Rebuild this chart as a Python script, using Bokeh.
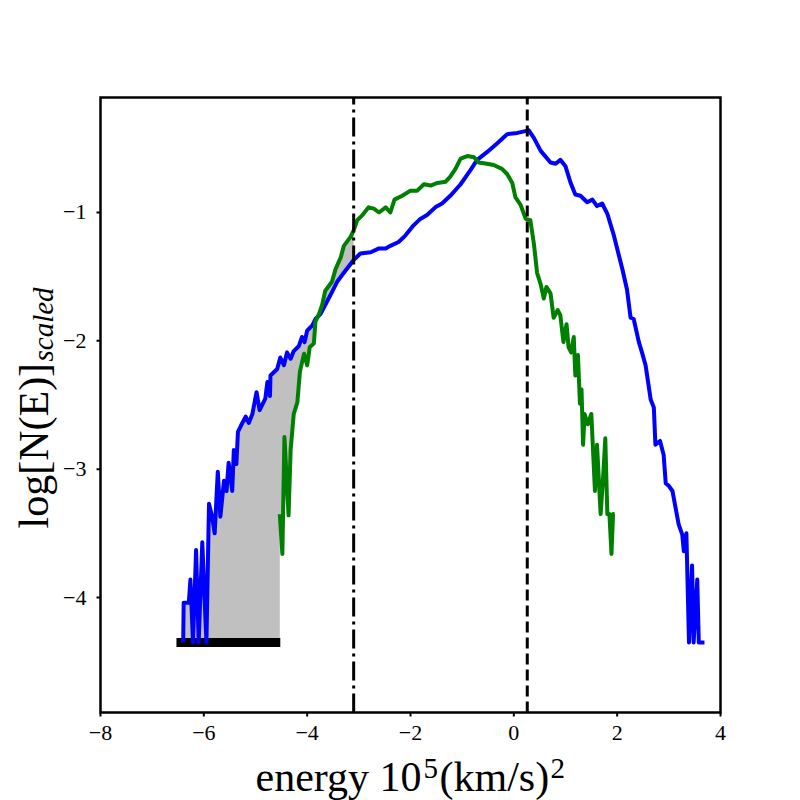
import numpy as np
from bokeh.plotting import figure
from bokeh.models import Range1d
from bokeh.embed import file_html
from bokeh.resources import INLINE
from bokeh.core.properties import value

# ---------------- data ----------------
floor_level = -4.35
e_cut = -3.10          # dash-dot marker
e_peak = 0.26          # dashed marker
bar_E = [-6.53, -4.52]  # black bar along the floor

blue_E = [-6.40, -6.39, -6.29, -6.26, -6.21, -6.15, -6.10, -6.03, -5.95, -5.90,
          -5.84, -5.79, -5.73, -5.68, -5.61, -5.56, -5.52, -5.45, -5.42, -5.37,
          -5.34, -5.28, -5.19, -5.13, -5.06, -4.98, -4.92, -4.81, -4.77, -4.72,
          -4.71, -4.58, -4.52, -4.45, -4.39, -4.32, -4.26, -4.16, -4.10, -4.05,
          -4.00, -3.90, -3.84, -3.74, -3.61, -3.52, -3.42, -3.29, -3.10, -2.97,
          -2.77, -2.61, -2.48, -2.39, -2.23, -2.10, -1.94, -1.81, -1.68, -1.52,
          -1.39, -1.23, -1.03, -0.84, -0.71, -0.52, -0.32, -0.13, 0.07, 0.29,
          0.39, 0.52, 0.71, 0.81, 0.90, 1.00, 1.10, 1.19, 1.29, 1.42,
          1.52, 1.61, 1.71, 1.81, 1.93, 2.03, 2.10, 2.19, 2.26, 2.32,
          2.42, 2.48, 2.55, 2.65, 2.71, 2.74, 2.83, 2.90, 2.94, 3.00,
          3.07, 3.13, 3.19, 3.26, 3.29, 3.34, 3.39, 3.45, 3.48, 3.55,
          3.58, 3.69]
blue_logN = [-4.35, -4.04, -4.04, -3.86, -4.35, -3.63, -4.35, -3.57, -4.35, -3.27,
             -3.37, -3.50, -3.02, -3.37, -3.09, -3.17, -2.95, -3.17, -2.85, -2.96,
             -2.71, -2.66, -2.59, -2.64, -2.57, -2.40, -2.54, -2.45, -2.32, -2.43,
             -2.27, -2.22, -2.13, -2.19, -2.09, -2.14, -2.08, -2.04, -1.97, -2.01,
             -1.92, -1.88, -1.83, -1.79, -1.69, -1.62, -1.54, -1.47, -1.37, -1.32,
             -1.31, -1.28, -1.28, -1.26, -1.23, -1.18, -1.10, -1.05, -1.02, -0.96,
             -0.93, -0.87, -0.78, -0.67, -0.59, -0.53, -0.46, -0.39, -0.38, -0.36,
             -0.42, -0.52, -0.61, -0.62, -0.59, -0.64, -0.77, -0.86, -0.87, -0.92,
             -0.90, -0.95, -0.93, -1.01, -1.17, -1.33, -1.44, -1.60, -1.82, -1.83,
             -2.01, -2.09, -2.19, -2.46, -2.52, -2.81, -2.78, -2.89, -3.11, -3.13,
             -3.17, -3.30, -3.43, -3.51, -3.64, -3.50, -4.35, -3.75, -4.35, -3.86,
             -4.35, -4.35]

green_E = [-4.53, -4.48, -4.44, -4.36, -4.32, -4.26, -4.19, -4.14, -4.06, -4.00,
           -3.95, -3.87, -3.84, -3.77, -3.71, -3.65, -3.52, -3.45, -3.35, -3.29,
           -3.16, -3.10, -3.03, -2.93, -2.81, -2.71, -2.61, -2.48, -2.39, -2.31,
           -2.16, -2.00, -1.87, -1.74, -1.61, -1.48, -1.32, -1.23, -1.13, -1.03,
           -0.90, -0.77, -0.68, -0.52, -0.39, -0.23, -0.13, -0.03, 0.03, 0.13,
           0.23, 0.32, 0.39, 0.45, 0.52, 0.58, 0.63, 0.71, 0.77, 0.85,
           0.90, 0.96, 1.02, 1.06, 1.11, 1.16, 1.19, 1.24, 1.28, 1.31,
           1.34, 1.37, 1.43, 1.50, 1.57, 1.61, 1.68, 1.73, 1.77, 1.81,
           1.85, 1.89, 1.92, 1.95]
green_logN = [-3.35, -3.66, -2.75, -3.36, -2.85, -2.57, -2.48, -2.24, -2.10, -2.19,
              -2.05, -2.02, -1.85, -1.79, -1.72, -1.61, -1.54, -1.44, -1.35, -1.26,
              -1.19, -1.14, -1.06, -1.02, -0.96, -0.97, -1.00, -0.96, -1.00, -0.90,
              -0.87, -0.83, -0.83, -0.78, -0.79, -0.77, -0.76, -0.72, -0.66, -0.58,
              -0.56, -0.57, -0.61, -0.62, -0.63, -0.66, -0.70, -0.77, -0.88, -0.94,
              -1.05, -1.06, -1.25, -1.47, -1.56, -1.67, -1.58, -1.63, -1.82, -1.76,
              -1.80, -2.01, -1.87, -2.05, -2.09, -1.97, -2.27, -2.11, -2.49, -2.38,
              -2.81, -2.57, -2.65, -2.57, -3.17, -2.81, -3.35, -3.05, -2.76, -3.35,
              -3.35, -3.66, -3.35, -3.35]

x_ticks = [-8, -6, -4, -2, 0, 2, 4]
y_ticks = [-4, -3, -2, -1]
x_lim = (-8.0, 4.0)
y_lim = (-4.896, -0.104)

# ---------------- layout (canvas pixels) ----------------
W, H = 800, 800
BOX_L, BOX_R, BOX_T, BOX_B = 100, 720, 97, 712
SERIF = value("Liberation Serif")

sx = (x_lim[1] - x_lim[0]) / (BOX_R - BOX_L)   # data units per pixel
sy = (y_lim[1] - y_lim[0]) / (BOX_B - BOX_T)
xr = Range1d(x_lim[0] - BOX_L * sx, x_lim[1] + (W - BOX_R) * sx)
yr = Range1d(y_lim[0] - (H - BOX_B) * sy, y_lim[1] + BOX_T * sy)

def X(px):  # canvas x pixel -> data x (annotation placement only)
    return x_lim[0] + (px - BOX_L) * sx

def Y(py):  # canvas y pixel -> data y (annotation placement only)
    return y_lim[1] - (py - BOX_T) * sy

p = figure(width=W, height=H, x_range=xr, y_range=yr, min_border=0,
           x_axis_location=None, y_axis_location=None,
           output_backend="svg", toolbar_location=None)
p.grid.visible = False
p.outline_line_color = None
p.background_fill_color = "white"
p.border_fill_color = "white"

# fill between the two curves left of the cut (green floored where it has no data)
bE = np.array(blue_E); bV = np.array(blue_logN)
gE = np.array(green_E); gV = np.array(green_logN)
bm = bE <= e_cut + 1e-9
gm = gE <= e_cut + 1e-9
poly_x = list(bE[bm]) + list(gE[gm][::-1]) + [gE[0], bE[0]]
poly_y = list(bV[bm]) + list(gV[gm][::-1]) + [floor_level, floor_level]
p.patch(poly_x, poly_y, fill_color="#c0c0c0", line_color=None)

p.line(bar_E, [floor_level, floor_level], line_color="black", line_width=9)

p.line(blue_E, blue_logN, line_color="#0000ff", line_width=4, line_join="round")
p.line(green_E, green_logN, line_color="#008000", line_width=4, line_join="round")

# vertical markers
p.segment(x0=[e_cut], y0=[y_lim[0]], x1=[e_cut], y1=[y_lim[1]],
          line_color="black", line_width=3, line_dash="19 5 3 5")
p.segment(x0=[e_peak], y0=[y_lim[0]], x1=[e_peak], y1=[y_lim[1]],
          line_color="black", line_width=3, line_dash="11 5")

# axes: box, ticks, tick labels
p.quad(left=[x_lim[0]], right=[x_lim[1]], bottom=[y_lim[0]], top=[y_lim[1]],
       fill_color=None, line_color="black", line_width=2.5, line_join="miter")

TL = 4  # tick length, px
p.segment(x0=x_ticks, y0=[y_lim[0]] * len(x_ticks), x1=x_ticks,
          y1=[y_lim[0] - TL * sy] * len(x_ticks), line_color="black", line_width=2)
p.segment(x0=[x_lim[0]] * len(y_ticks), y0=y_ticks, x1=[x_lim[0] - TL * sx] * len(y_ticks),
          y1=y_ticks, line_color="black", line_width=2)

def tick_text(v):
    return ("\u2212" + str(abs(v))) if v < 0 else str(v)

p.text(x=x_ticks, y=[y_lim[0]] * len(x_ticks), text=[tick_text(v) for v in x_ticks],
       y_offset=20, text_align="center", text_baseline="alphabetic",
       text_font=SERIF, text_font_size="22px", text_color="black")
p.text(x=[x_lim[0]] * len(y_ticks), y=y_ticks, text=[tick_text(v) for v in y_ticks],
       x_offset=-14, y_offset=0, text_align="right", text_baseline="alphabetic",
       text_font=SERIF, text_font_size="22px", text_color="black")

# axis titles (pieces for super/subscripts)
def piece(txt, px, py, size, angle=0.0, style="normal"):
    p.text(x=[X(px)], y=[Y(py)], text=[txt], angle=angle, text_align="left",
           text_baseline="alphabetic", text_font=SERIF, text_font_size=size,
           text_font_style=style, text_color="black")

piece("energy 10", 255, 776, "42px")
piece("5", 423, 768, "29px")
piece("(km/s)", 439, 776, "42px")
piece("2", 550, 768, "29px")

piece("log[N(E)]", 33, 528, "42px", angle=np.pi / 2)
piece("scaled", 42, 361, "29px", angle=np.pi / 2, style="italic")

open("out.html", "w").write(file_html(p, INLINE))
